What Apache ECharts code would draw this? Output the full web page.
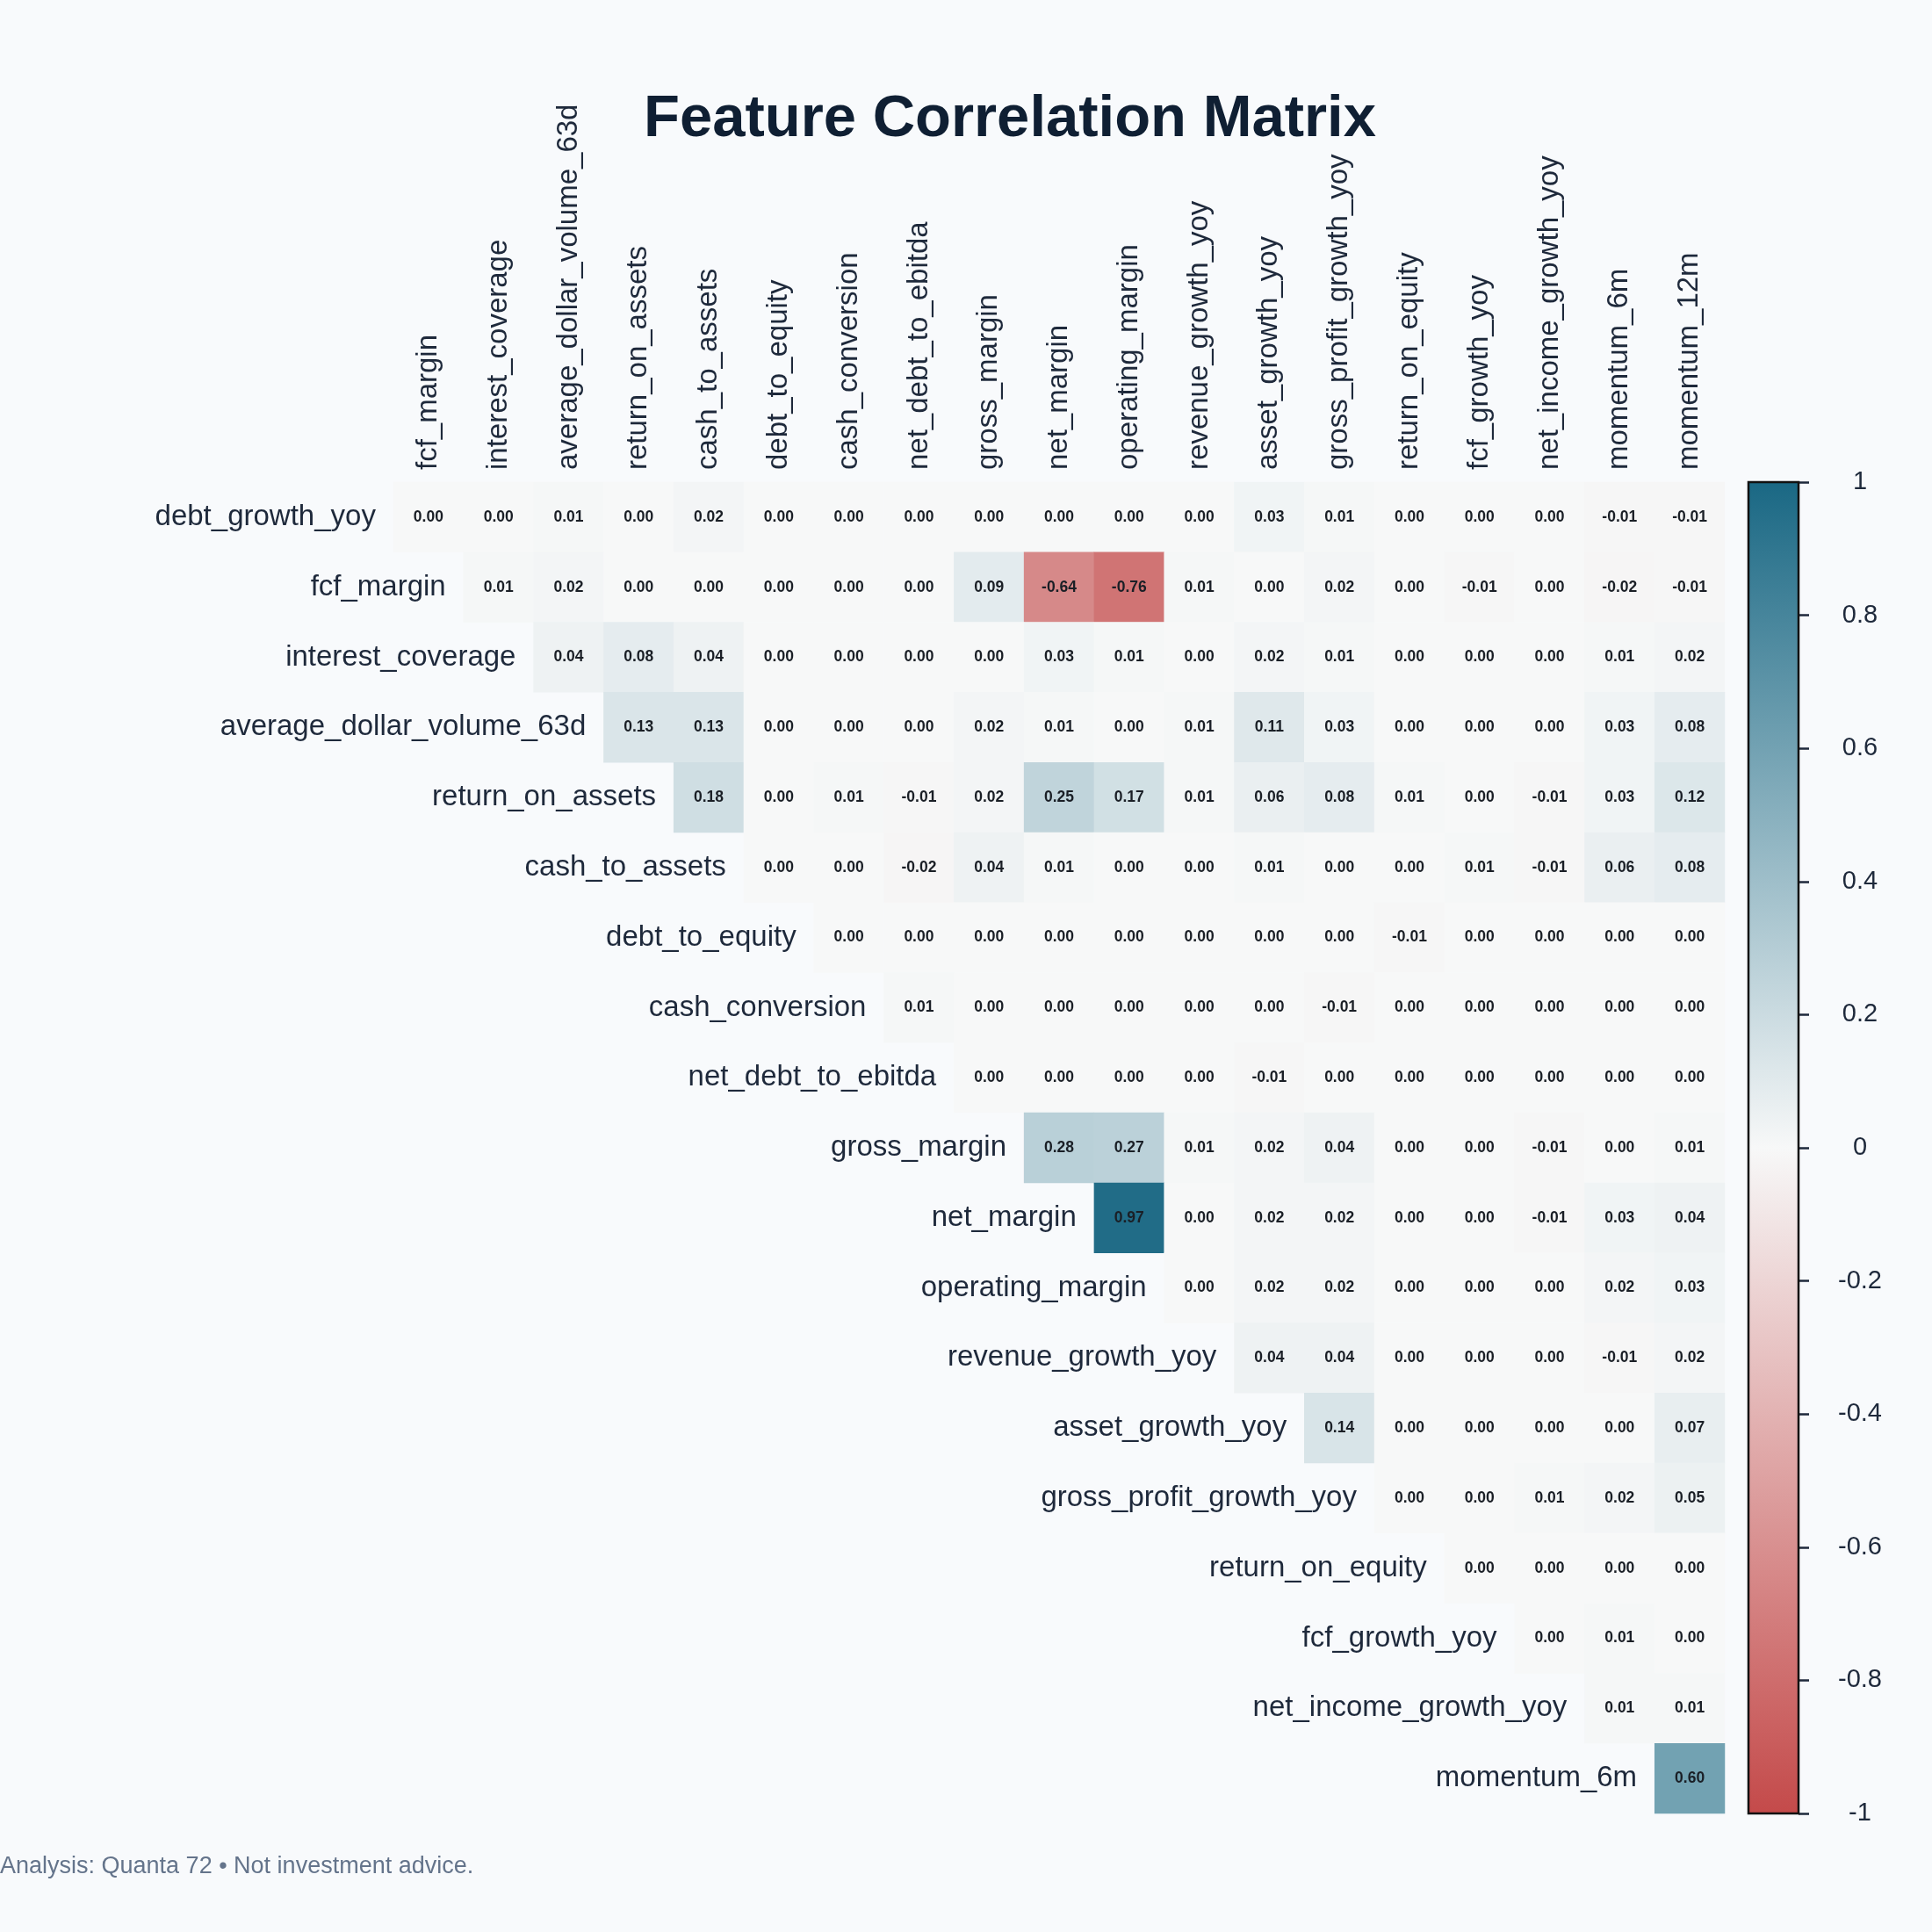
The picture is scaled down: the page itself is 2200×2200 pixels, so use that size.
<!DOCTYPE html>
<html>
<head>
<meta charset="utf-8">
<script src="https://cdn.jsdelivr.net/npm/echarts@6/dist/echarts.min.js"></script>
<style>
html,body{margin:0;padding:0;background:#f8fafc;}
#chart{width:2200px;height:2200px;}
</style>
</head>
<body>
<div id="chart"></div>
<script>
// ---- DATA ----
const columns = ["fcf_margin","interest_coverage","average_dollar_volume_63d","return_on_assets","cash_to_assets","debt_to_equity","cash_conversion","net_debt_to_ebitda","gross_margin","net_margin","operating_margin","revenue_growth_yoy","asset_growth_yoy","gross_profit_growth_yoy","return_on_equity","fcf_growth_yoy","net_income_growth_yoy","momentum_6m","momentum_12m"];
const rows = ["debt_growth_yoy","fcf_margin","interest_coverage","average_dollar_volume_63d","return_on_assets","cash_to_assets","debt_to_equity","cash_conversion","net_debt_to_ebitda","gross_margin","net_margin","operating_margin","revenue_growth_yoy","asset_growth_yoy","gross_profit_growth_yoy","return_on_equity","fcf_growth_yoy","net_income_growth_yoy","momentum_6m"];

// each row's values start at the column with the same index (upper triangle)
const debt_growth_yoy = [0.00,0.00,0.01,0.00,0.02,0.00,0.00,0.00,0.00,0.00,0.00,0.00,0.03,0.01,0.00,0.00,0.00,-0.01,-0.01];
const fcf_margin = [0.01,0.02,0.00,0.00,0.00,0.00,0.00,0.09,-0.64,-0.76,0.01,0.00,0.02,0.00,-0.01,0.00,-0.02,-0.01];
const interest_coverage = [0.04,0.08,0.04,0.00,0.00,0.00,0.00,0.03,0.01,0.00,0.02,0.01,0.00,0.00,0.00,0.01,0.02];
const average_dollar_volume_63d = [0.13,0.13,0.00,0.00,0.00,0.02,0.01,0.00,0.01,0.11,0.03,0.00,0.00,0.00,0.03,0.08];
const return_on_assets = [0.18,0.00,0.01,-0.01,0.02,0.25,0.17,0.01,0.06,0.08,0.01,0.00,-0.01,0.03,0.12];
const cash_to_assets = [0.00,0.00,-0.02,0.04,0.01,0.00,0.00,0.01,0.00,0.00,0.01,-0.01,0.06,0.08];
const debt_to_equity = [0.00,0.00,0.00,0.00,0.00,0.00,0.00,0.00,-0.01,0.00,0.00,0.00,0.00];
const cash_conversion = [0.01,0.00,0.00,0.00,0.00,0.00,-0.01,0.00,0.00,0.00,0.00,0.00];
const net_debt_to_ebitda = [0.00,0.00,0.00,0.00,-0.01,0.00,0.00,0.00,0.00,0.00,0.00];
const gross_margin = [0.28,0.27,0.01,0.02,0.04,0.00,0.00,-0.01,0.00,0.01];
const net_margin = [0.97,0.00,0.02,0.02,0.00,0.00,-0.01,0.03,0.04];
const operating_margin = [0.00,0.02,0.02,0.00,0.00,0.00,0.02,0.03];
const revenue_growth_yoy = [0.04,0.04,0.00,0.00,0.00,-0.01,0.02];
const asset_growth_yoy = [0.14,0.00,0.00,0.00,0.00,0.07];
const gross_profit_growth_yoy = [0.00,0.00,0.01,0.02,0.05];
const return_on_equity = [0.00,0.00,0.00,0.00];
const fcf_growth_yoy = [0.00,0.01,0.00];
const net_income_growth_yoy = [0.01,0.01];
const momentum_6m = [0.60];

const rowValues = [debt_growth_yoy,fcf_margin,interest_coverage,average_dollar_volume_63d,return_on_assets,cash_to_assets,debt_to_equity,cash_conversion,net_debt_to_ebitda,gross_margin,net_margin,operating_margin,revenue_growth_yoy,asset_growth_yoy,gross_profit_growth_yoy,return_on_equity,fcf_growth_yoy,net_income_growth_yoy,momentum_6m];

const colorbarMin = -1, colorbarMax = 1, colorbarStep = 0.2;
const colorbarUpper = [1];
const colorbarLower = [-1];

const titleText = "Feature Correlation Matrix";
const footerText = "Analysis: Quanta 72 \u2022 Not investment advice.";

// ---- STYLE ----
const COL_NEG = '#c44a4a', COL_MID = '#f7f8f8', COL_POS = '#1a6884';
const FONT = '"Liberation Sans", Arial, Helvetica, sans-serif';
const LABEL_COLOR = '#1e293b';

const heatData = [];
rowValues.forEach((vals, i) => {
  vals.forEach((v, k) => { heatData.push([i + k, i, v]); });
});
// row label anchors: the first (diagonal) cell of each row
const rowLabelData = rows.map((name, i) => ({value: [i, i], name: name}));

const chart = echarts.init(document.getElementById('chart'), null, {renderer: 'canvas'});
const option = {
  backgroundColor: '#f8fafc',
  animation: false,
  textStyle: {fontFamily: FONT},
  grid: [
    {left: 448, top: 549, width: 1516, height: 1516},
    {left: 1991, top: 549, width: 57, height: 1516, show: true, borderColor: '#111111', borderWidth: 2.5, backgroundColor: 'transparent', z: 5}
  ],
  xAxis: [
    {type: 'category', data: columns, position: 'top', gridIndex: 0,
     axisLine: {show: false}, axisTick: {show: false}, splitLine: {show: false},
     axisLabel: {interval: 0, rotate: -90, margin: 14, fontSize: 33, color: LABEL_COLOR, fontFamily: FONT}},
    {type: 'category', data: ['cb'], gridIndex: 1, show: false}
  ],
  yAxis: [
    {type: 'category', data: rows, inverse: true, gridIndex: 0,
     axisLine: {show: false}, axisTick: {show: false}, splitLine: {show: false},
     axisLabel: {show: false}},
    {type: 'value', gridIndex: 1, position: 'right', min: colorbarMin, max: colorbarMax, interval: colorbarStep,
     axisLine: {show: false}, splitLine: {show: false},
     axisTick: {show: true, length: 12, inside: false, lineStyle: {color: LABEL_COLOR, width: 2.5}},
     axisLabel: {margin: 70, align: 'center', fontSize: 29, color: LABEL_COLOR, fontFamily: FONT}}
  ],
  visualMap: {
    type: 'continuous', show: false, seriesIndex: 0, min: colorbarMin, max: colorbarMax,
    inRange: {color: [COL_NEG, COL_MID, COL_POS]}
  },
  series: [
    {type: 'heatmap', xAxisIndex: 0, yAxisIndex: 0, data: heatData,
     label: {show: true, fontSize: 17.5, fontWeight: 'bold', color: '#1a1f26', fontFamily: FONT,
       formatter: p => p.value[2].toFixed(2)},
     itemStyle: {borderWidth: 0}, emphasis: {disabled: true}},
    {type: 'bar', xAxisIndex: 1, yAxisIndex: 1, data: colorbarUpper, barWidth: '100%', barGap: '-100%', silent: true,
     itemStyle: {color: new echarts.graphic.LinearGradient(0, 0, 0, 1, [{offset: 0, color: COL_POS}, {offset: 1, color: COL_MID}])}},
    {type: 'bar', xAxisIndex: 1, yAxisIndex: 1, data: colorbarLower, barWidth: '100%', barGap: '-100%', silent: true,
     itemStyle: {color: new echarts.graphic.LinearGradient(0, 0, 0, 1, [{offset: 0, color: COL_MID}, {offset: 1, color: COL_NEG}])}},
    {type: 'scatter', xAxisIndex: 0, yAxisIndex: 0, data: rowLabelData, symbolSize: 0, silent: true,
     itemStyle: {opacity: 1},
     label: {show: true, position: 'left', distance: 60, fontSize: 33, color: LABEL_COLOR, opacity: 1, fontFamily: FONT,
       formatter: p => p.name}}
  ],
  graphic: [
    {type: 'text', x: 1150, y: 137, style: {text: titleText, align: 'center', verticalAlign: 'middle',
      fontSize: 67, fontWeight: 'bold', fill: '#0f1f33', fontFamily: FONT}},
    {type: 'text', x: 0, y: 2126, style: {text: footerText, align: 'left', verticalAlign: 'middle',
      fontSize: 27, fill: '#64748b', fontFamily: FONT}}
  ]
};
chart.setOption(option);
</script>
</body>
</html>
